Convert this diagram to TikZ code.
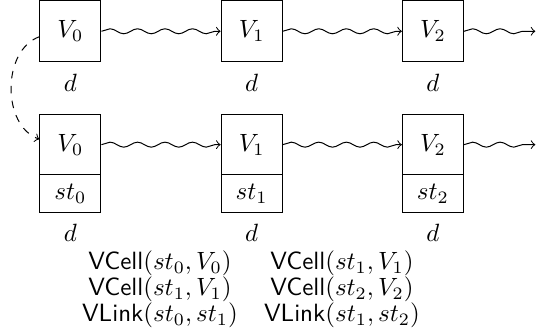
\documentclass[tikz,border=0pt]{standalone}
\usepackage{amsmath}
\usepackage{tikz}
\usetikzlibrary{arrows, positioning, decorations.pathmorphing}
\tikzstyle{cell} = [rectangle, draw=black, minimum width=0.86cm, minimum height=0.86cm, text centered]
\tikzstyle{vpart} = [rectangle, draw=black, minimum width=0.86cm, minimum height=0.845cm, text centered]
\tikzstyle{stpart} = [rectangle, draw=black, minimum width=0.86cm, minimum height=0.53cm, text centered]
\tikzstyle{wave} = [->, decorate, decoration={snake, amplitude=1pt, segment length=11pt, post length=2pt}]
\tikzstyle{facts} = [align=center, text centered]

\begin{document}
\begin{tikzpicture}[node distance = 2.55cm, auto]
        \useasboundingbox (0,0.01) rectangle (7.54,-4.67);

		% top row
		\node (v0) [cell] at (0.99,-0.43) {$V_0$};
		\node (v1) [cell, right of=v0] {$V_1$};
		\node (v2) [cell, right of=v1] {$V_2$};
		\node (d0) [below of=v0, node distance=0.73cm] {$d$};
		\node (d1) [below of=v1, node distance=0.73cm] {$d$};
		\node (d2) [below of=v2, node distance=0.73cm] {$d$};
		\coordinate (e2) at (7.53,-0.43);

		% bottom row
		\node (w0) [vpart, below of=v0, node distance=1.595cm] {$V_0$};
		\node (w1) [vpart, right of=w0] {$V_1$};
		\node (w2) [vpart, right of=w1] {$V_2$};
		\node (s0) [stpart, below of=w0, node distance=0.69cm] {$st_0$};
		\node (s1) [stpart, below of=w1, node distance=0.69cm] {$st_1$};
		\node (s2) [stpart, below of=w2, node distance=0.69cm] {$st_2$};
		\node (t0) [below of=s0, node distance=0.545cm] {$d$};
		\node (t1) [below of=s1, node distance=0.545cm] {$d$};
		\node (t2) [below of=s2, node distance=0.545cm] {$d$};
		\coordinate (f2) at (7.53,-2.025);

		\node (l01) [facts] at (2.25,-4.06) {\textsf{VCell}$(st_0,V_0)$\\[-1.5pt]\textsf{VCell}$(st_1,V_1)$\\[-1.5pt]\textsf{VLink}$(st_0,st_1)$};
		\node (l12) [facts] at (4.81,-4.06) {\textsf{VCell}$(st_1,V_1)$\\[-1.5pt]\textsf{VCell}$(st_2,V_2)$\\[-1.5pt]\textsf{VLink}$(st_1,st_2)$};

		% Draw edges
		\draw [wave] (v0) -- (v1);
		\draw [wave] (v1) -- (v2);
		\draw [wave] (v2) -- (e2);
		\draw [wave] (w0) -- (w1);
		\draw [wave] (w1) -- (w2);
		\draw [wave] (w2) -- (f2);
		\draw [dashed, ->] (v0.190) to[out=200, in=160] (w0.170);

\end{tikzpicture}
\end{document}
